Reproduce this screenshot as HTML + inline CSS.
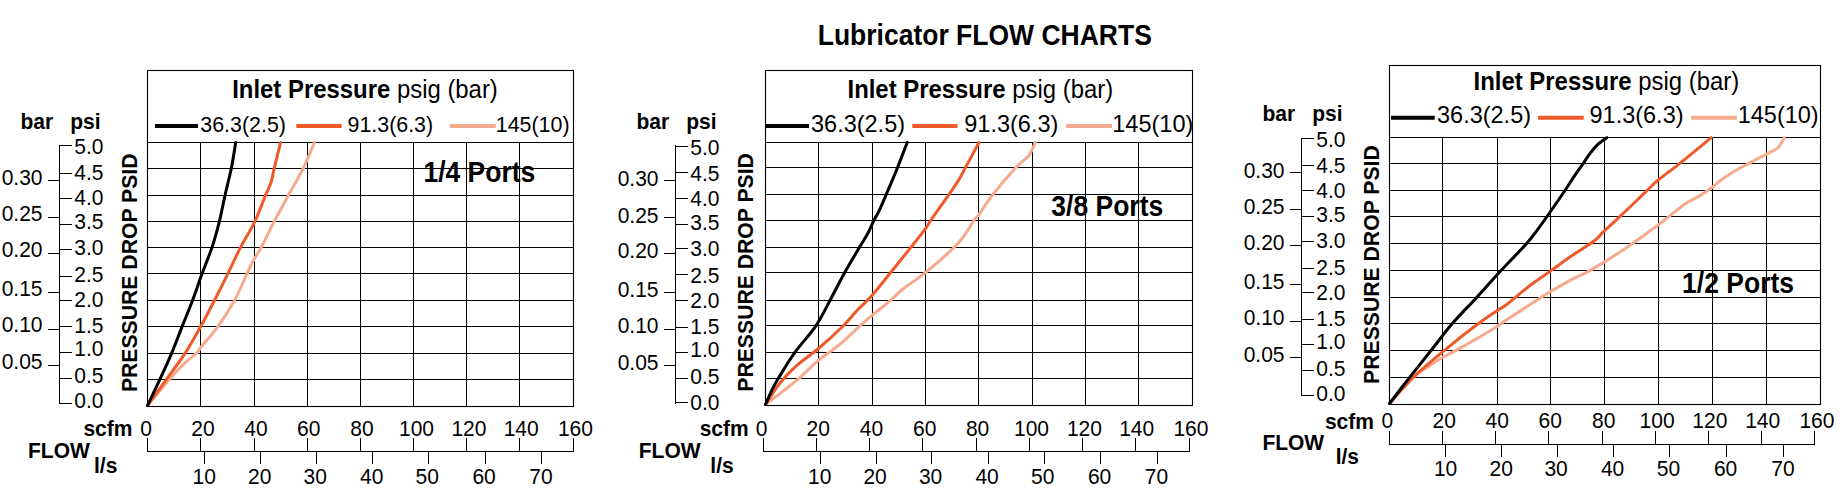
<!DOCTYPE html><html><head><meta charset="utf-8"><style>html,body{margin:0;padding:0;background:#fff;}svg{display:block;}text{font-family:"Liberation Sans", sans-serif;fill:#000;}</style></head><body>
<svg width="1845" height="490" viewBox="0 0 1845 490">
<rect width="1845" height="490" fill="#fff"/>
<text transform="translate(817.7,44.8) scale(1,1.08)" font-size="26.5" font-weight="bold" text-anchor="start">Lubricator FLOW CHARTS</text>
<text transform="translate(20.400000000000002,129) scale(1,1.06)" font-size="21" font-weight="bold" text-anchor="start">bar</text>
<text transform="translate(70.19999999999999,129) scale(1,1.06)" font-size="21" font-weight="bold" text-anchor="start">psi</text>
<line x1="48" y1="180.5" x2="60" y2="180.5" stroke="#000" stroke-width="1"/>
<text transform="translate(42.5,184.5) scale(1,1.06)" font-size="21" text-anchor="end">0.30</text>
<line x1="48" y1="217.5" x2="60" y2="217.5" stroke="#000" stroke-width="1"/>
<text transform="translate(42.5,221.4) scale(1,1.06)" font-size="21" text-anchor="end">0.25</text>
<line x1="48" y1="253.5" x2="60" y2="253.5" stroke="#000" stroke-width="1"/>
<text transform="translate(42.5,257.1) scale(1,1.06)" font-size="21" text-anchor="end">0.20</text>
<line x1="48" y1="292.5" x2="60" y2="292.5" stroke="#000" stroke-width="1"/>
<text transform="translate(42.5,296) scale(1,1.06)" font-size="21" text-anchor="end">0.15</text>
<line x1="48" y1="329.5" x2="60" y2="329.5" stroke="#000" stroke-width="1"/>
<text transform="translate(42.5,332.2) scale(1,1.06)" font-size="21" text-anchor="end">0.10</text>
<line x1="48" y1="365.5" x2="60" y2="365.5" stroke="#000" stroke-width="1"/>
<text transform="translate(42.5,369) scale(1,1.06)" font-size="21" text-anchor="end">0.05</text>
<line x1="59.5" y1="145" x2="59.5" y2="404" stroke="#000" stroke-width="1"/>
<line x1="59" y1="145.5" x2="72" y2="145.5" stroke="#000" stroke-width="1"/>
<text transform="translate(74.3,154) scale(1,1.06)" font-size="21" text-anchor="start">5.0</text>
<line x1="59" y1="173.5" x2="72" y2="173.5" stroke="#000" stroke-width="1"/>
<text transform="translate(74.3,179.7) scale(1,1.06)" font-size="21" text-anchor="start">4.5</text>
<line x1="59" y1="198.5" x2="72" y2="198.5" stroke="#000" stroke-width="1"/>
<text transform="translate(74.3,204.6) scale(1,1.06)" font-size="21" text-anchor="start">4.0</text>
<line x1="59" y1="224.5" x2="72" y2="224.5" stroke="#000" stroke-width="1"/>
<text transform="translate(74.3,228.5) scale(1,1.06)" font-size="21" text-anchor="start">3.5</text>
<line x1="59" y1="249.5" x2="72" y2="249.5" stroke="#000" stroke-width="1"/>
<text transform="translate(74.3,255.2) scale(1,1.06)" font-size="21" text-anchor="start">3.0</text>
<line x1="59" y1="276.5" x2="72" y2="276.5" stroke="#000" stroke-width="1"/>
<text transform="translate(74.3,281.5) scale(1,1.06)" font-size="21" text-anchor="start">2.5</text>
<line x1="59" y1="300.5" x2="72" y2="300.5" stroke="#000" stroke-width="1"/>
<text transform="translate(74.3,307) scale(1,1.06)" font-size="21" text-anchor="start">2.0</text>
<line x1="59" y1="326.5" x2="72" y2="326.5" stroke="#000" stroke-width="1"/>
<text transform="translate(74.3,333.2) scale(1,1.06)" font-size="21" text-anchor="start">1.5</text>
<line x1="59" y1="352.5" x2="72" y2="352.5" stroke="#000" stroke-width="1"/>
<text transform="translate(74.3,355.8) scale(1,1.06)" font-size="21" text-anchor="start">1.0</text>
<line x1="59" y1="378.5" x2="72" y2="378.5" stroke="#000" stroke-width="1"/>
<text transform="translate(74.3,382.6) scale(1,1.06)" font-size="21" text-anchor="start">0.5</text>
<line x1="59" y1="403.5" x2="72" y2="403.5" stroke="#000" stroke-width="1"/>
<text transform="translate(74.3,408.4) scale(1,1.06)" font-size="21" text-anchor="start">0.0</text>
<text transform="translate(136.9,392.1) rotate(-90)" x="0" y="0" font-size="21.2" font-weight="bold">PRESSURE DROP PSID</text>
<line x1="200.5" y1="142" x2="200.5" y2="407" stroke="#000" stroke-width="1"/>
<line x1="254.5" y1="142" x2="254.5" y2="407" stroke="#000" stroke-width="1"/>
<line x1="307.5" y1="142" x2="307.5" y2="407" stroke="#000" stroke-width="1"/>
<line x1="360.5" y1="142" x2="360.5" y2="407" stroke="#000" stroke-width="1"/>
<line x1="413.5" y1="142" x2="413.5" y2="407" stroke="#000" stroke-width="1"/>
<line x1="466.5" y1="142" x2="466.5" y2="407" stroke="#000" stroke-width="1"/>
<line x1="519.5" y1="142" x2="519.5" y2="407" stroke="#000" stroke-width="1"/>
<line x1="147" y1="168.5" x2="574" y2="168.5" stroke="#000" stroke-width="1"/>
<line x1="147" y1="195.5" x2="574" y2="195.5" stroke="#000" stroke-width="1"/>
<line x1="147" y1="221.5" x2="574" y2="221.5" stroke="#000" stroke-width="1"/>
<line x1="147" y1="247.5" x2="574" y2="247.5" stroke="#000" stroke-width="1"/>
<line x1="147" y1="273.5" x2="574" y2="273.5" stroke="#000" stroke-width="1"/>
<line x1="147" y1="300.5" x2="574" y2="300.5" stroke="#000" stroke-width="1"/>
<line x1="147" y1="326.5" x2="574" y2="326.5" stroke="#000" stroke-width="1"/>
<line x1="147" y1="353.5" x2="574" y2="353.5" stroke="#000" stroke-width="1"/>
<line x1="147" y1="379.5" x2="574" y2="379.5" stroke="#000" stroke-width="1"/>
<rect x="147.5" y="70.5" width="426" height="336" fill="none" stroke="#000" stroke-width="1.1"/>
<line x1="147.5" y1="142.5" x2="573.5" y2="142.5" stroke="#000" stroke-width="1.1"/>
<text transform="translate(232.2,98) scale(1,1.05)" font-size="23.9"><tspan font-weight="bold">Inlet Pressure</tspan> psig (bar)</text>
<line x1="155" y1="125.9" x2="198" y2="125.9" stroke="#000" stroke-width="4"/>
<text transform="translate(200.29999999999998,131.5) scale(1,1.04)" font-size="21.4" text-anchor="start">36.3(2.5)</text>
<line x1="296.3" y1="125.9" x2="341.7" y2="125.9" stroke="#ee5a2a" stroke-width="4"/>
<text transform="translate(347.5,131.5) scale(1,1.04)" font-size="21.4" text-anchor="start">91.3(6.3)</text>
<line x1="449.9" y1="125.9" x2="495.8" y2="125.9" stroke="#f6aa8e" stroke-width="4"/>
<text transform="translate(495.8,131.5) scale(1,1.04)" font-size="21.4" text-anchor="start">145(10)</text>
<path d="M147.50,405.50 C151.13,401.15 163.05,386.50 169.30,379.40 C175.55,372.30 180.48,367.23 185.00,362.90 C189.52,358.57 193.55,356.27 196.40,353.40 C199.25,350.53 198.52,350.17 202.10,345.70 C205.68,341.23 212.53,334.10 217.90,326.60 C223.27,319.10 229.43,309.53 234.30,300.70 C239.17,291.87 244.00,280.15 247.10,273.60 C250.20,267.05 250.52,265.82 252.90,261.40 C255.28,256.98 257.83,253.77 261.40,247.10 C264.97,240.43 269.77,230.10 274.30,221.40 C278.83,212.70 283.75,203.80 288.60,194.90 C293.45,186.00 299.12,176.73 303.40,168.00 C307.68,159.27 312.48,146.75 314.30,142.50" fill="none" stroke="#f6aa8e" stroke-width="3" stroke-linejoin="round" stroke-linecap="round"/>
<path d="M147.50,405.50 C150.65,401.15 160.15,388.08 166.40,379.40 C172.65,370.72 179.28,362.20 185.00,353.40 C190.72,344.60 195.82,335.38 200.70,326.60 C205.58,317.82 209.77,309.53 214.30,300.70 C218.83,291.87 223.50,282.53 227.90,273.60 C232.30,264.67 236.20,255.80 240.70,247.10 C245.20,238.40 250.73,230.10 254.90,221.40 C259.07,212.70 263.03,201.32 265.70,194.90 C268.37,188.48 269.47,187.38 270.90,182.90 C272.33,178.42 272.68,174.73 274.30,168.00 C275.92,161.27 279.55,146.75 280.60,142.50" fill="none" stroke="#ee5a2a" stroke-width="3" stroke-linejoin="round" stroke-linecap="round"/>
<path d="M147.50,405.50 C149.57,401.15 155.88,388.08 159.90,379.40 C163.92,370.72 167.90,362.20 171.60,353.40 C175.30,344.60 178.60,335.45 182.10,326.60 C185.60,317.75 189.27,309.13 192.60,300.30 C195.93,291.47 198.85,282.47 202.10,273.60 C205.35,264.73 209.22,255.80 212.10,247.10 C214.98,238.40 217.23,230.10 219.40,221.40 C221.57,212.70 223.10,203.80 225.10,194.90 C227.10,186.00 229.63,176.73 231.40,168.00 C233.17,159.27 234.98,146.75 235.70,142.50" fill="none" stroke="#000" stroke-width="3" stroke-linejoin="round" stroke-linecap="round"/>
<text transform="translate(423.4,181.8) scale(1,1.11)" font-size="26.5" font-weight="bold" text-anchor="start">1/4 Ports</text>
<text transform="translate(146,435.6) scale(1,1.06)" font-size="21" text-anchor="middle">0</text>
<text transform="translate(203,435.6) scale(1,1.06)" font-size="21" text-anchor="middle">20</text>
<text transform="translate(256,435.6) scale(1,1.06)" font-size="21" text-anchor="middle">40</text>
<text transform="translate(308.7,435.6) scale(1,1.06)" font-size="21" text-anchor="middle">60</text>
<text transform="translate(362,435.6) scale(1,1.06)" font-size="21" text-anchor="middle">80</text>
<text transform="translate(416.5,435.6) scale(1,1.06)" font-size="21" text-anchor="middle">100</text>
<text transform="translate(468.9,435.6) scale(1,1.06)" font-size="21" text-anchor="middle">120</text>
<text transform="translate(521.2,435.6) scale(1,1.06)" font-size="21" text-anchor="middle">140</text>
<text transform="translate(575.4,435.6) scale(1,1.06)" font-size="21" text-anchor="middle">160</text>
<text transform="translate(204.3,483.6) scale(1,1.06)" font-size="21" text-anchor="middle">10</text>
<text transform="translate(259.7,483.6) scale(1,1.06)" font-size="21" text-anchor="middle">20</text>
<text transform="translate(315.3,483.6) scale(1,1.06)" font-size="21" text-anchor="middle">30</text>
<text transform="translate(371.7,483.6) scale(1,1.06)" font-size="21" text-anchor="middle">40</text>
<text transform="translate(427.2,483.6) scale(1,1.06)" font-size="21" text-anchor="middle">50</text>
<text transform="translate(484.1,483.6) scale(1,1.06)" font-size="21" text-anchor="middle">60</text>
<text transform="translate(541,483.6) scale(1,1.06)" font-size="21" text-anchor="middle">70</text>
<line x1="147" y1="451.5" x2="574" y2="451.5" stroke="#000" stroke-width="1"/>
<line x1="147.5" y1="438" x2="147.5" y2="452" stroke="#000" stroke-width="1"/>
<line x1="200.5" y1="438" x2="200.5" y2="452" stroke="#000" stroke-width="1"/>
<line x1="254.5" y1="438" x2="254.5" y2="452" stroke="#000" stroke-width="1"/>
<line x1="307.5" y1="438" x2="307.5" y2="452" stroke="#000" stroke-width="1"/>
<line x1="360.5" y1="438" x2="360.5" y2="452" stroke="#000" stroke-width="1"/>
<line x1="413.5" y1="438" x2="413.5" y2="452" stroke="#000" stroke-width="1"/>
<line x1="466.5" y1="438" x2="466.5" y2="452" stroke="#000" stroke-width="1"/>
<line x1="519.5" y1="438" x2="519.5" y2="452" stroke="#000" stroke-width="1"/>
<line x1="573.5" y1="438" x2="573.5" y2="452" stroke="#000" stroke-width="1"/>
<line x1="204.5" y1="451" x2="204.5" y2="464" stroke="#000" stroke-width="1"/>
<line x1="260.5" y1="451" x2="260.5" y2="464" stroke="#000" stroke-width="1"/>
<line x1="316.5" y1="451" x2="316.5" y2="464" stroke="#000" stroke-width="1"/>
<line x1="372.5" y1="451" x2="372.5" y2="464" stroke="#000" stroke-width="1"/>
<line x1="428.5" y1="451" x2="428.5" y2="464" stroke="#000" stroke-width="1"/>
<line x1="485.5" y1="451" x2="485.5" y2="464" stroke="#000" stroke-width="1"/>
<line x1="541.5" y1="451" x2="541.5" y2="464" stroke="#000" stroke-width="1"/>
<text transform="translate(83.4,436) scale(1,1.06)" font-size="21" font-weight="bold" text-anchor="start">scfm</text>
<text transform="translate(28.0,457.8) scale(1,1.06)" font-size="21" font-weight="bold" text-anchor="start">FLOW</text>
<text transform="translate(94.0,472.5) scale(1,1.06)" font-size="21" font-weight="bold" text-anchor="start">l/s</text>
<text transform="translate(636.4,129) scale(1,1.06)" font-size="21" font-weight="bold" text-anchor="start">bar</text>
<text transform="translate(686.2,129) scale(1,1.06)" font-size="21" font-weight="bold" text-anchor="start">psi</text>
<line x1="664" y1="180.5" x2="676" y2="180.5" stroke="#000" stroke-width="1"/>
<text transform="translate(658.5,185.7) scale(1,1.06)" font-size="21" text-anchor="end">0.30</text>
<line x1="664" y1="217.5" x2="676" y2="217.5" stroke="#000" stroke-width="1"/>
<text transform="translate(658.5,222.6) scale(1,1.06)" font-size="21" text-anchor="end">0.25</text>
<line x1="664" y1="253.5" x2="676" y2="253.5" stroke="#000" stroke-width="1"/>
<text transform="translate(658.5,258.3) scale(1,1.06)" font-size="21" text-anchor="end">0.20</text>
<line x1="664" y1="292.5" x2="676" y2="292.5" stroke="#000" stroke-width="1"/>
<text transform="translate(658.5,297.2) scale(1,1.06)" font-size="21" text-anchor="end">0.15</text>
<line x1="664" y1="329.5" x2="676" y2="329.5" stroke="#000" stroke-width="1"/>
<text transform="translate(658.5,333.4) scale(1,1.06)" font-size="21" text-anchor="end">0.10</text>
<line x1="664" y1="365.5" x2="676" y2="365.5" stroke="#000" stroke-width="1"/>
<text transform="translate(658.5,370.2) scale(1,1.06)" font-size="21" text-anchor="end">0.05</text>
<line x1="675.5" y1="145" x2="675.5" y2="404" stroke="#000" stroke-width="1"/>
<line x1="675" y1="146.5" x2="688" y2="146.5" stroke="#000" stroke-width="1"/>
<text transform="translate(690.3,155.2) scale(1,1.06)" font-size="21" text-anchor="start">5.0</text>
<line x1="675" y1="172.5" x2="688" y2="172.5" stroke="#000" stroke-width="1"/>
<text transform="translate(690.3,180.89999999999998) scale(1,1.06)" font-size="21" text-anchor="start">4.5</text>
<line x1="675" y1="198.5" x2="688" y2="198.5" stroke="#000" stroke-width="1"/>
<text transform="translate(690.3,205.79999999999998) scale(1,1.06)" font-size="21" text-anchor="start">4.0</text>
<line x1="675" y1="224.5" x2="688" y2="224.5" stroke="#000" stroke-width="1"/>
<text transform="translate(690.3,229.7) scale(1,1.06)" font-size="21" text-anchor="start">3.5</text>
<line x1="675" y1="248.5" x2="688" y2="248.5" stroke="#000" stroke-width="1"/>
<text transform="translate(690.3,256.4) scale(1,1.06)" font-size="21" text-anchor="start">3.0</text>
<line x1="675" y1="274.5" x2="688" y2="274.5" stroke="#000" stroke-width="1"/>
<text transform="translate(690.3,282.7) scale(1,1.06)" font-size="21" text-anchor="start">2.5</text>
<line x1="675" y1="300.5" x2="688" y2="300.5" stroke="#000" stroke-width="1"/>
<text transform="translate(690.3,308.2) scale(1,1.06)" font-size="21" text-anchor="start">2.0</text>
<line x1="675" y1="327.5" x2="688" y2="327.5" stroke="#000" stroke-width="1"/>
<text transform="translate(690.3,334.4) scale(1,1.06)" font-size="21" text-anchor="start">1.5</text>
<line x1="675" y1="352.5" x2="688" y2="352.5" stroke="#000" stroke-width="1"/>
<text transform="translate(690.3,357.0) scale(1,1.06)" font-size="21" text-anchor="start">1.0</text>
<line x1="675" y1="378.5" x2="688" y2="378.5" stroke="#000" stroke-width="1"/>
<text transform="translate(690.3,383.8) scale(1,1.06)" font-size="21" text-anchor="start">0.5</text>
<line x1="675" y1="402.5" x2="688" y2="402.5" stroke="#000" stroke-width="1"/>
<text transform="translate(690.3,409.59999999999997) scale(1,1.06)" font-size="21" text-anchor="start">0.0</text>
<text transform="translate(752.9,391.70000000000005) rotate(-90)" x="0" y="0" font-size="21.2" font-weight="bold">PRESSURE DROP PSID</text>
<line x1="818.5" y1="142" x2="818.5" y2="406" stroke="#000" stroke-width="1"/>
<line x1="872.5" y1="142" x2="872.5" y2="406" stroke="#000" stroke-width="1"/>
<line x1="925.5" y1="142" x2="925.5" y2="406" stroke="#000" stroke-width="1"/>
<line x1="978.5" y1="142" x2="978.5" y2="406" stroke="#000" stroke-width="1"/>
<line x1="1032.5" y1="142" x2="1032.5" y2="406" stroke="#000" stroke-width="1"/>
<line x1="1085.5" y1="142" x2="1085.5" y2="406" stroke="#000" stroke-width="1"/>
<line x1="1138.5" y1="142" x2="1138.5" y2="406" stroke="#000" stroke-width="1"/>
<line x1="765" y1="167.5" x2="1193" y2="167.5" stroke="#000" stroke-width="1"/>
<line x1="765" y1="194.5" x2="1193" y2="194.5" stroke="#000" stroke-width="1"/>
<line x1="765" y1="220.5" x2="1193" y2="220.5" stroke="#000" stroke-width="1"/>
<line x1="765" y1="247.5" x2="1193" y2="247.5" stroke="#000" stroke-width="1"/>
<line x1="765" y1="272.5" x2="1193" y2="272.5" stroke="#000" stroke-width="1"/>
<line x1="765" y1="300.5" x2="1193" y2="300.5" stroke="#000" stroke-width="1"/>
<line x1="765" y1="325.5" x2="1193" y2="325.5" stroke="#000" stroke-width="1"/>
<line x1="765" y1="352.5" x2="1193" y2="352.5" stroke="#000" stroke-width="1"/>
<line x1="765" y1="378.5" x2="1193" y2="378.5" stroke="#000" stroke-width="1"/>
<rect x="765.5" y="70.5" width="427" height="335" fill="none" stroke="#000" stroke-width="1.1"/>
<line x1="765.5" y1="142.5" x2="1192.5" y2="142.5" stroke="#000" stroke-width="1.1"/>
<text transform="translate(847.5,98) scale(1,1.05)" font-size="23.9"><tspan font-weight="bold">Inlet Pressure</tspan> psig (bar)</text>
<line x1="765" y1="125.9" x2="809" y2="125.9" stroke="#000" stroke-width="4"/>
<text transform="translate(811.0,131.8) scale(1,1.04)" font-size="23.5" text-anchor="start">36.3(2.5)</text>
<line x1="912.3" y1="125.9" x2="957.5" y2="125.9" stroke="#ee5a2a" stroke-width="4"/>
<text transform="translate(964.3000000000001,131.8) scale(1,1.04)" font-size="23.5" text-anchor="start">91.3(6.3)</text>
<line x1="1066.1" y1="125.9" x2="1112" y2="125.9" stroke="#f6aa8e" stroke-width="4"/>
<text transform="translate(1112.3,131.8) scale(1,1.04)" font-size="23.5" text-anchor="start">145(10)</text>
<path d="M765.50,404.50 C768.38,402.32 777.17,395.78 782.80,391.40 C788.43,387.02 793.42,383.33 799.30,378.20 C805.18,373.07 811.30,366.28 818.10,360.60 C824.90,354.92 832.62,350.35 840.10,344.10 C847.58,337.85 856.58,328.78 863.00,323.10 C869.42,317.42 874.02,313.80 878.60,310.00 C883.18,306.20 886.22,303.97 890.50,300.30 C894.78,296.63 898.48,292.60 904.30,288.00 C910.12,283.40 917.13,279.43 925.40,272.70 C933.67,265.97 947.32,253.93 953.90,247.60 C960.48,241.27 961.53,239.30 964.90,234.70 C968.27,230.10 971.87,223.23 974.10,220.00 C976.33,216.77 975.00,219.75 978.30,215.30 C981.60,210.85 987.63,201.25 993.90,193.30 C1000.17,185.35 1010.38,173.57 1015.90,167.60 C1021.42,161.63 1024.55,159.95 1027.00,157.50 C1029.45,155.05 1029.23,155.40 1030.60,152.90 C1031.97,150.40 1034.43,144.23 1035.20,142.50" fill="none" stroke="#f6aa8e" stroke-width="3" stroke-linejoin="round" stroke-linecap="round"/>
<path d="M765.50,404.50 C767.83,401.03 774.42,390.10 779.50,383.70 C784.58,377.30 789.50,371.97 796.00,366.10 C802.50,360.23 810.60,355.22 818.50,348.50 C826.40,341.78 836.90,332.22 843.40,325.80 C849.90,319.38 852.70,315.08 857.50,310.00 C862.30,304.92 866.70,301.52 872.20,295.30 C877.70,289.08 884.08,280.65 890.50,272.70 C896.92,264.75 904.80,255.02 910.70,247.60 C916.60,240.18 922.53,232.80 925.90,228.20 C929.27,223.60 927.07,225.60 930.90,220.00 C934.73,214.40 944.22,201.35 948.90,194.60 C953.58,187.85 956.25,184.00 959.00,179.50 C961.75,175.00 962.07,173.77 965.40,167.60 C968.73,161.43 976.73,146.68 979.00,142.50" fill="none" stroke="#ee5a2a" stroke-width="3" stroke-linejoin="round" stroke-linecap="round"/>
<path d="M765.50,404.50 C766.55,402.13 769.65,394.68 771.80,390.30 C773.95,385.92 774.55,384.52 778.40,378.20 C782.25,371.88 788.65,361.13 794.90,352.40 C801.15,343.67 810.02,334.53 815.90,325.80 C821.78,317.07 825.42,308.85 830.20,300.00 C834.98,291.15 839.75,281.43 844.60,272.70 C849.45,263.97 855.47,254.08 859.30,247.60 C863.13,241.12 865.15,238.40 867.60,233.80 C870.05,229.20 871.93,224.15 874.00,220.00 C876.07,215.85 876.70,216.12 880.00,208.90 C883.30,201.68 890.88,183.58 893.80,176.70 C896.72,169.82 895.27,173.30 897.50,167.60 C899.73,161.90 905.58,146.68 907.20,142.50" fill="none" stroke="#000" stroke-width="3" stroke-linejoin="round" stroke-linecap="round"/>
<text transform="translate(1051.3000000000002,215.7) scale(1,1.11)" font-size="26.5" font-weight="bold" text-anchor="start">3/8 Ports</text>
<text transform="translate(761.6,435.7) scale(1,1.06)" font-size="21" text-anchor="middle">0</text>
<text transform="translate(818.3,435.7) scale(1,1.06)" font-size="21" text-anchor="middle">20</text>
<text transform="translate(871.4,435.7) scale(1,1.06)" font-size="21" text-anchor="middle">40</text>
<text transform="translate(924.7,435.7) scale(1,1.06)" font-size="21" text-anchor="middle">60</text>
<text transform="translate(977.6,435.7) scale(1,1.06)" font-size="21" text-anchor="middle">80</text>
<text transform="translate(1031.5,435.7) scale(1,1.06)" font-size="21" text-anchor="middle">100</text>
<text transform="translate(1084.4,435.7) scale(1,1.06)" font-size="21" text-anchor="middle">120</text>
<text transform="translate(1136.7,435.7) scale(1,1.06)" font-size="21" text-anchor="middle">140</text>
<text transform="translate(1190.9,435.7) scale(1,1.06)" font-size="21" text-anchor="middle">160</text>
<text transform="translate(819.8,483.8) scale(1,1.06)" font-size="21" text-anchor="middle">10</text>
<text transform="translate(875.1,483.8) scale(1,1.06)" font-size="21" text-anchor="middle">20</text>
<text transform="translate(930.6,483.8) scale(1,1.06)" font-size="21" text-anchor="middle">30</text>
<text transform="translate(987.1,483.8) scale(1,1.06)" font-size="21" text-anchor="middle">40</text>
<text transform="translate(1042.7,483.8) scale(1,1.06)" font-size="21" text-anchor="middle">50</text>
<text transform="translate(1099.6,483.8) scale(1,1.06)" font-size="21" text-anchor="middle">60</text>
<text transform="translate(1156.4,483.8) scale(1,1.06)" font-size="21" text-anchor="middle">70</text>
<line x1="763" y1="451.5" x2="1190" y2="451.5" stroke="#000" stroke-width="1"/>
<line x1="763.5" y1="438" x2="763.5" y2="452" stroke="#000" stroke-width="1"/>
<line x1="816.5" y1="438" x2="816.5" y2="452" stroke="#000" stroke-width="1"/>
<line x1="869.5" y1="438" x2="869.5" y2="452" stroke="#000" stroke-width="1"/>
<line x1="922.5" y1="438" x2="922.5" y2="452" stroke="#000" stroke-width="1"/>
<line x1="976.5" y1="438" x2="976.5" y2="452" stroke="#000" stroke-width="1"/>
<line x1="1029.5" y1="438" x2="1029.5" y2="452" stroke="#000" stroke-width="1"/>
<line x1="1082.5" y1="438" x2="1082.5" y2="452" stroke="#000" stroke-width="1"/>
<line x1="1135.5" y1="438" x2="1135.5" y2="452" stroke="#000" stroke-width="1"/>
<line x1="1189.5" y1="438" x2="1189.5" y2="452" stroke="#000" stroke-width="1"/>
<line x1="820.5" y1="451" x2="820.5" y2="464" stroke="#000" stroke-width="1"/>
<line x1="876.5" y1="451" x2="876.5" y2="464" stroke="#000" stroke-width="1"/>
<line x1="931.5" y1="451" x2="931.5" y2="464" stroke="#000" stroke-width="1"/>
<line x1="988.5" y1="451" x2="988.5" y2="464" stroke="#000" stroke-width="1"/>
<line x1="1044.5" y1="451" x2="1044.5" y2="464" stroke="#000" stroke-width="1"/>
<line x1="1100.5" y1="451" x2="1100.5" y2="464" stroke="#000" stroke-width="1"/>
<line x1="1157.5" y1="451" x2="1157.5" y2="464" stroke="#000" stroke-width="1"/>
<text transform="translate(699.7,436) scale(1,1.06)" font-size="21" font-weight="bold" text-anchor="start">scfm</text>
<text transform="translate(638.8000000000001,457.9) scale(1,1.06)" font-size="21" font-weight="bold" text-anchor="start">FLOW</text>
<text transform="translate(710.3,472.5) scale(1,1.06)" font-size="21" font-weight="bold" text-anchor="start">l/s</text>
<text transform="translate(1262.3999999999999,121.2) scale(1,1.06)" font-size="21" font-weight="bold" text-anchor="start">bar</text>
<text transform="translate(1312.1999999999998,121.2) scale(1,1.06)" font-size="21" font-weight="bold" text-anchor="start">psi</text>
<line x1="1290" y1="172.5" x2="1302" y2="172.5" stroke="#000" stroke-width="1"/>
<text transform="translate(1284.5,177.5) scale(1,1.06)" font-size="21" text-anchor="end">0.30</text>
<line x1="1290" y1="209.5" x2="1302" y2="209.5" stroke="#000" stroke-width="1"/>
<text transform="translate(1284.5,214.4) scale(1,1.06)" font-size="21" text-anchor="end">0.25</text>
<line x1="1290" y1="245.5" x2="1302" y2="245.5" stroke="#000" stroke-width="1"/>
<text transform="translate(1284.5,250.10000000000002) scale(1,1.06)" font-size="21" text-anchor="end">0.20</text>
<line x1="1290" y1="284.5" x2="1302" y2="284.5" stroke="#000" stroke-width="1"/>
<text transform="translate(1284.5,289.0) scale(1,1.06)" font-size="21" text-anchor="end">0.15</text>
<line x1="1290" y1="321.5" x2="1302" y2="321.5" stroke="#000" stroke-width="1"/>
<text transform="translate(1284.5,325.2) scale(1,1.06)" font-size="21" text-anchor="end">0.10</text>
<line x1="1290" y1="357.5" x2="1302" y2="357.5" stroke="#000" stroke-width="1"/>
<text transform="translate(1284.5,362.0) scale(1,1.06)" font-size="21" text-anchor="end">0.05</text>
<line x1="1301.5" y1="138" x2="1301.5" y2="396" stroke="#000" stroke-width="1"/>
<line x1="1301" y1="138.5" x2="1314" y2="138.5" stroke="#000" stroke-width="1"/>
<text transform="translate(1316.3,147.0) scale(1,1.06)" font-size="21" text-anchor="start">5.0</text>
<line x1="1301" y1="165.5" x2="1314" y2="165.5" stroke="#000" stroke-width="1"/>
<text transform="translate(1316.3,172.7) scale(1,1.06)" font-size="21" text-anchor="start">4.5</text>
<line x1="1301" y1="190.5" x2="1314" y2="190.5" stroke="#000" stroke-width="1"/>
<text transform="translate(1316.3,197.6) scale(1,1.06)" font-size="21" text-anchor="start">4.0</text>
<line x1="1301" y1="216.5" x2="1314" y2="216.5" stroke="#000" stroke-width="1"/>
<text transform="translate(1316.3,221.5) scale(1,1.06)" font-size="21" text-anchor="start">3.5</text>
<line x1="1301" y1="241.5" x2="1314" y2="241.5" stroke="#000" stroke-width="1"/>
<text transform="translate(1316.3,248.2) scale(1,1.06)" font-size="21" text-anchor="start">3.0</text>
<line x1="1301" y1="268.5" x2="1314" y2="268.5" stroke="#000" stroke-width="1"/>
<text transform="translate(1316.3,274.5) scale(1,1.06)" font-size="21" text-anchor="start">2.5</text>
<line x1="1301" y1="292.5" x2="1314" y2="292.5" stroke="#000" stroke-width="1"/>
<text transform="translate(1316.3,300.0) scale(1,1.06)" font-size="21" text-anchor="start">2.0</text>
<line x1="1301" y1="319.5" x2="1314" y2="319.5" stroke="#000" stroke-width="1"/>
<text transform="translate(1316.3,326.2) scale(1,1.06)" font-size="21" text-anchor="start">1.5</text>
<line x1="1301" y1="344.5" x2="1314" y2="344.5" stroke="#000" stroke-width="1"/>
<text transform="translate(1316.3,348.8) scale(1,1.06)" font-size="21" text-anchor="start">1.0</text>
<line x1="1301" y1="370.5" x2="1314" y2="370.5" stroke="#000" stroke-width="1"/>
<text transform="translate(1316.3,375.6) scale(1,1.06)" font-size="21" text-anchor="start">0.5</text>
<line x1="1301" y1="395.5" x2="1314" y2="395.5" stroke="#000" stroke-width="1"/>
<text transform="translate(1316.3,401.4) scale(1,1.06)" font-size="21" text-anchor="start">0.0</text>
<text transform="translate(1378.9,383.90000000000003) rotate(-90)" x="0" y="0" font-size="21.2" font-weight="bold">PRESSURE DROP PSID</text>
<line x1="1442.5" y1="137" x2="1442.5" y2="405" stroke="#000" stroke-width="1"/>
<line x1="1497.5" y1="137" x2="1497.5" y2="405" stroke="#000" stroke-width="1"/>
<line x1="1550.5" y1="137" x2="1550.5" y2="405" stroke="#000" stroke-width="1"/>
<line x1="1604.5" y1="137" x2="1604.5" y2="405" stroke="#000" stroke-width="1"/>
<line x1="1658.5" y1="137" x2="1658.5" y2="405" stroke="#000" stroke-width="1"/>
<line x1="1712.5" y1="137" x2="1712.5" y2="405" stroke="#000" stroke-width="1"/>
<line x1="1766.5" y1="137" x2="1766.5" y2="405" stroke="#000" stroke-width="1"/>
<line x1="1389" y1="163.5" x2="1821" y2="163.5" stroke="#000" stroke-width="1"/>
<line x1="1389" y1="190.5" x2="1821" y2="190.5" stroke="#000" stroke-width="1"/>
<line x1="1389" y1="216.5" x2="1821" y2="216.5" stroke="#000" stroke-width="1"/>
<line x1="1389" y1="243.5" x2="1821" y2="243.5" stroke="#000" stroke-width="1"/>
<line x1="1389" y1="270.5" x2="1821" y2="270.5" stroke="#000" stroke-width="1"/>
<line x1="1389" y1="297.5" x2="1821" y2="297.5" stroke="#000" stroke-width="1"/>
<line x1="1389" y1="323.5" x2="1821" y2="323.5" stroke="#000" stroke-width="1"/>
<line x1="1389" y1="350.5" x2="1821" y2="350.5" stroke="#000" stroke-width="1"/>
<line x1="1389" y1="377.5" x2="1821" y2="377.5" stroke="#000" stroke-width="1"/>
<rect x="1389.5" y="65.5" width="431" height="339" fill="none" stroke="#000" stroke-width="1.1"/>
<line x1="1389.5" y1="137.5" x2="1820.5" y2="137.5" stroke="#000" stroke-width="1.1"/>
<text transform="translate(1473.6000000000001,89.9) scale(1,1.05)" font-size="23.9"><tspan font-weight="bold">Inlet Pressure</tspan> psig (bar)</text>
<line x1="1391" y1="117.7" x2="1434.7" y2="117.7" stroke="#000" stroke-width="4"/>
<text transform="translate(1437.0,123.3) scale(1,1.04)" font-size="23.5" text-anchor="start">36.3(2.5)</text>
<line x1="1538.1" y1="117.7" x2="1583.7" y2="117.7" stroke="#ee5a2a" stroke-width="4"/>
<text transform="translate(1589.5,123.3) scale(1,1.04)" font-size="23.5" text-anchor="start">91.3(6.3)</text>
<line x1="1691.1" y1="117.7" x2="1736.9" y2="117.7" stroke="#f6aa8e" stroke-width="4"/>
<text transform="translate(1737.7,123.3) scale(1,1.04)" font-size="23.5" text-anchor="start">145(10)</text>
<path d="M1389.50,403.50 C1393.42,399.18 1406.32,383.90 1413.00,377.60 C1419.68,371.30 1424.67,369.05 1429.60,365.70 C1434.53,362.35 1437.67,360.35 1442.60,357.50 C1447.53,354.65 1451.12,353.15 1459.20,348.60 C1467.28,344.05 1483.13,335.03 1491.10,330.20 C1499.07,325.37 1499.33,324.63 1507.00,319.60 C1514.67,314.57 1531.05,303.95 1537.10,300.00 C1543.15,296.05 1538.18,298.97 1543.30,295.90 C1548.42,292.83 1559.98,285.85 1567.80,281.60 C1575.62,277.35 1581.50,275.33 1590.20,270.40 C1598.90,265.47 1610.03,258.57 1620.00,252.00 C1629.97,245.43 1641.77,236.98 1650.00,231.00 C1658.23,225.02 1663.45,220.70 1669.40,216.10 C1675.35,211.50 1680.60,206.82 1685.70,203.40 C1690.80,199.98 1695.55,198.33 1700.00,195.60 C1704.45,192.87 1708.83,189.62 1712.40,187.00 C1715.97,184.38 1717.75,182.52 1721.40,179.90 C1725.05,177.28 1729.65,174.10 1734.30,171.30 C1738.95,168.50 1743.95,165.97 1749.30,163.10 C1754.65,160.23 1761.77,156.55 1766.40,154.10 C1771.03,151.65 1774.60,150.30 1777.10,148.40 C1779.60,146.50 1780.20,144.48 1781.40,142.70 C1782.60,140.92 1783.82,138.53 1784.30,137.70" fill="none" stroke="#f6aa8e" stroke-width="3" stroke-linejoin="round" stroke-linecap="round"/>
<path d="M1389.50,403.50 C1393.42,399.18 1403.95,386.38 1413.00,377.60 C1422.05,368.82 1432.95,359.77 1443.80,350.80 C1454.65,341.83 1469.03,330.58 1478.10,323.80 C1487.17,317.02 1493.38,313.37 1498.20,310.10 C1503.02,306.83 1501.53,308.43 1507.00,304.20 C1512.47,299.97 1523.60,290.33 1531.00,284.70 C1538.40,279.07 1544.93,275.00 1551.40,270.40 C1557.87,265.80 1562.65,262.03 1569.80,257.10 C1576.95,252.17 1588.58,245.15 1594.30,240.80 C1600.02,236.45 1599.75,235.12 1604.10,231.00 C1608.45,226.88 1613.27,222.83 1620.40,216.10 C1627.53,209.37 1640.60,196.62 1646.90,190.60 C1653.20,184.58 1652.75,184.50 1658.20,180.00 C1663.65,175.50 1670.77,170.65 1679.60,163.60 C1688.43,156.55 1705.93,142.02 1711.20,137.70" fill="none" stroke="#ee5a2a" stroke-width="3" stroke-linejoin="round" stroke-linecap="round"/>
<path d="M1389.50,403.50 C1392.83,399.18 1402.62,386.38 1409.50,377.60 C1416.38,368.82 1423.70,359.77 1430.80,350.80 C1437.90,341.83 1444.45,332.70 1452.10,323.80 C1459.75,314.90 1468.55,306.28 1476.70,297.40 C1484.85,288.52 1492.67,279.50 1501.00,270.50 C1509.33,261.50 1520.57,250.27 1526.70,243.40 C1532.83,236.53 1533.95,234.45 1537.80,229.30 C1541.65,224.15 1545.22,219.05 1549.80,212.50 C1554.38,205.95 1561.22,196.07 1565.30,190.00 C1569.38,183.93 1571.30,180.55 1574.30,176.10 C1577.30,171.65 1580.85,166.83 1583.30,163.30 C1585.75,159.77 1586.70,157.93 1589.00,154.90 C1591.30,151.87 1594.12,147.97 1597.10,145.10 C1600.08,142.23 1605.27,138.93 1606.90,137.70" fill="none" stroke="#000" stroke-width="3" stroke-linejoin="round" stroke-linecap="round"/>
<text transform="translate(1682.1000000000001,292.9) scale(1,1.11)" font-size="26.5" font-weight="bold" text-anchor="start">1/2 Ports</text>
<text transform="translate(1387.4,428.4) scale(1,1.06)" font-size="21" text-anchor="middle">0</text>
<text transform="translate(1444.3,428.4) scale(1,1.06)" font-size="21" text-anchor="middle">20</text>
<text transform="translate(1497.3,428.4) scale(1,1.06)" font-size="21" text-anchor="middle">40</text>
<text transform="translate(1550.2,428.4) scale(1,1.06)" font-size="21" text-anchor="middle">60</text>
<text transform="translate(1603.8,428.4) scale(1,1.06)" font-size="21" text-anchor="middle">80</text>
<text transform="translate(1657.1,428.4) scale(1,1.06)" font-size="21" text-anchor="middle">100</text>
<text transform="translate(1709.8,428.4) scale(1,1.06)" font-size="21" text-anchor="middle">120</text>
<text transform="translate(1762.7,428.4) scale(1,1.06)" font-size="21" text-anchor="middle">140</text>
<text transform="translate(1816.9,428.4) scale(1,1.06)" font-size="21" text-anchor="middle">160</text>
<text transform="translate(1445.6,475.6) scale(1,1.06)" font-size="21" text-anchor="middle">10</text>
<text transform="translate(1501.2,475.6) scale(1,1.06)" font-size="21" text-anchor="middle">20</text>
<text transform="translate(1556.1,475.6) scale(1,1.06)" font-size="21" text-anchor="middle">30</text>
<text transform="translate(1612.6,475.6) scale(1,1.06)" font-size="21" text-anchor="middle">40</text>
<text transform="translate(1668.5,475.6) scale(1,1.06)" font-size="21" text-anchor="middle">50</text>
<text transform="translate(1725.6,475.6) scale(1,1.06)" font-size="21" text-anchor="middle">60</text>
<text transform="translate(1782.9,475.6) scale(1,1.06)" font-size="21" text-anchor="middle">70</text>
<line x1="1389" y1="444.5" x2="1815" y2="444.5" stroke="#000" stroke-width="1"/>
<line x1="1389.5" y1="431" x2="1389.5" y2="445" stroke="#000" stroke-width="1"/>
<line x1="1442.5" y1="431" x2="1442.5" y2="445" stroke="#000" stroke-width="1"/>
<line x1="1495.5" y1="431" x2="1495.5" y2="445" stroke="#000" stroke-width="1"/>
<line x1="1548.5" y1="431" x2="1548.5" y2="445" stroke="#000" stroke-width="1"/>
<line x1="1602.5" y1="431" x2="1602.5" y2="445" stroke="#000" stroke-width="1"/>
<line x1="1655.5" y1="431" x2="1655.5" y2="445" stroke="#000" stroke-width="1"/>
<line x1="1708.5" y1="431" x2="1708.5" y2="445" stroke="#000" stroke-width="1"/>
<line x1="1761.5" y1="431" x2="1761.5" y2="445" stroke="#000" stroke-width="1"/>
<line x1="1814.5" y1="431" x2="1814.5" y2="445" stroke="#000" stroke-width="1"/>
<line x1="1445.5" y1="444" x2="1445.5" y2="457" stroke="#000" stroke-width="1"/>
<line x1="1501.5" y1="444" x2="1501.5" y2="457" stroke="#000" stroke-width="1"/>
<line x1="1557.5" y1="444" x2="1557.5" y2="457" stroke="#000" stroke-width="1"/>
<line x1="1613.5" y1="444" x2="1613.5" y2="457" stroke="#000" stroke-width="1"/>
<line x1="1669.5" y1="444" x2="1669.5" y2="457" stroke="#000" stroke-width="1"/>
<line x1="1726.5" y1="444" x2="1726.5" y2="457" stroke="#000" stroke-width="1"/>
<line x1="1783.5" y1="444" x2="1783.5" y2="457" stroke="#000" stroke-width="1"/>
<text transform="translate(1324.9,428.9) scale(1,1.06)" font-size="21" font-weight="bold" text-anchor="start">scfm</text>
<text transform="translate(1262.3999999999999,449.7) scale(1,1.06)" font-size="21" font-weight="bold" text-anchor="start">FLOW</text>
<text transform="translate(1335.7,464.4) scale(1,1.06)" font-size="21" font-weight="bold" text-anchor="start">l/s</text>
</svg></body></html>
